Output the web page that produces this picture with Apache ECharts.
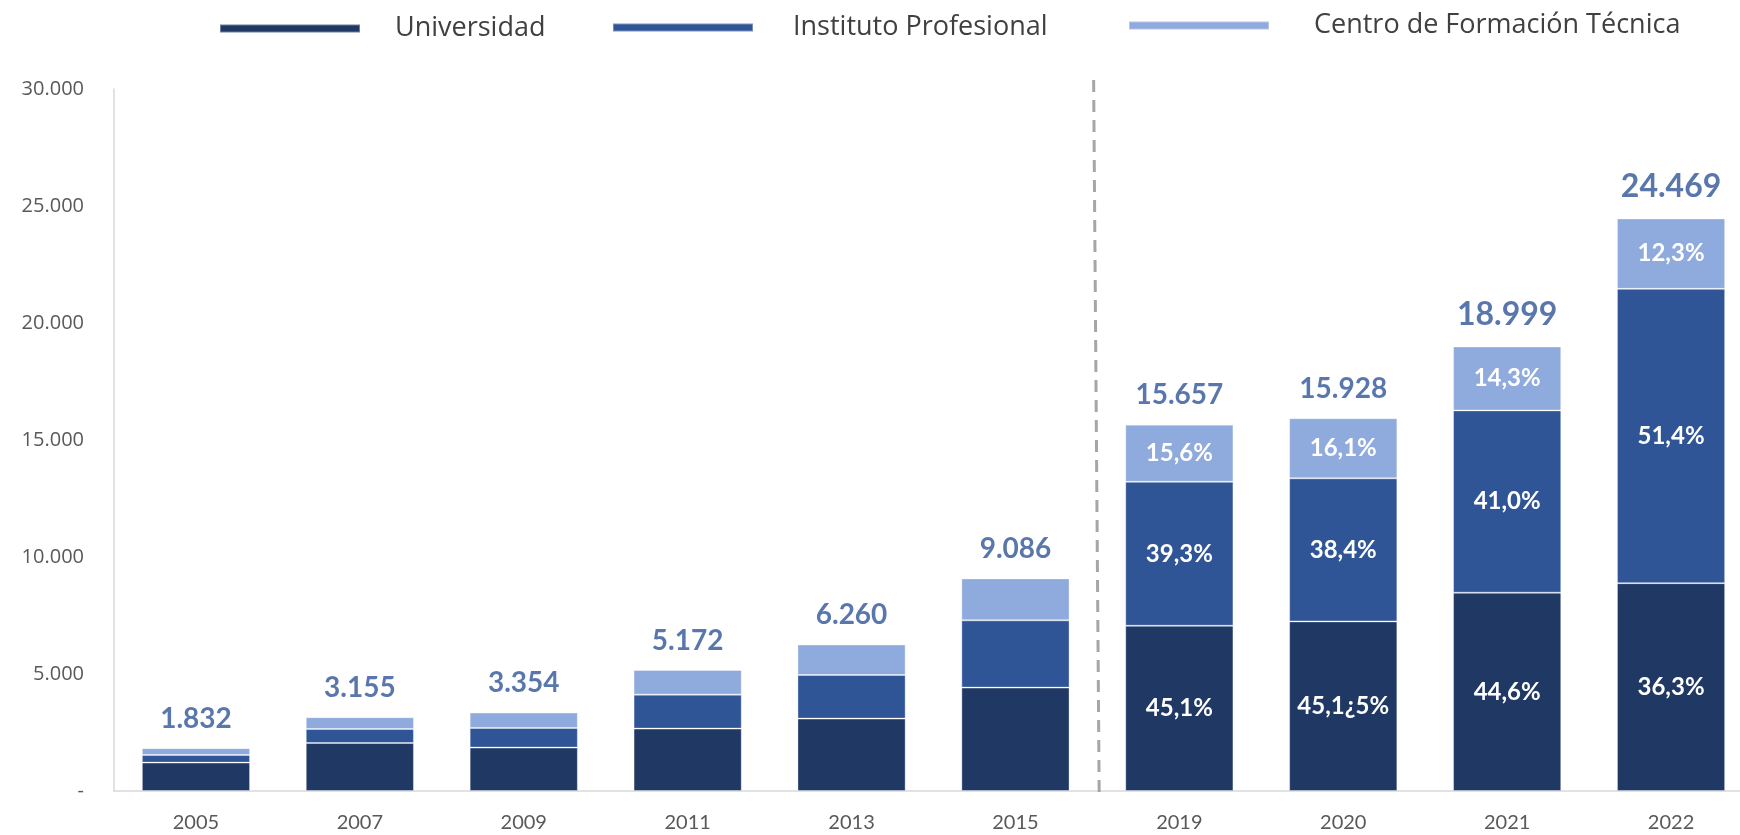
<!DOCTYPE html>
<html>
<head>
<meta charset="utf-8">
<script src="https://cdn.jsdelivr.net/npm/echarts@6/dist/echarts.min.js"></script>
<style>
  html, body { margin: 0; padding: 0; background: #fff; overflow: hidden; }
  /* a bit wider than the window: the last bar runs past the right edge */
  #chart { width: 1760px; height: 835px; }
</style>
</head>
<body>
<div id="chart"></div>
<script>
// data
const years = ['2005', '2007', '2009', '2011', '2013', '2015', '2019', '2020', '2021', '2022'];
const universidad = [1213, 2051, 1854, 2666, 3093, 4418, 7061, 7247, 8474, 8882];
const instituto = [325, 598, 838, 1452, 1863, 2875, 6153, 6116, 7790, 12577];
const cft = [294, 506, 662, 1054, 1304, 1793, 2443, 2565, 2735, 3010];
const totals = [1832, 3155, 3354, 5172, 6260, 9086, 15657, 15928, 18999, 24469];

const pctUniversidad = ['', '', '', '', '', '', '45,1%', '45,1¿5%', '44,6%', '36,3%'];
const pctInstituto = ['', '', '', '', '', '', '39,3%', '38,4%', '41,0%', '51,4%'];
const pctCft = ['', '', '', '', '', '', '15,6%', '16,1%', '14,3%', '12,3%'];

// dashed divider between 2015 and 2019 (x in category units, y in axis units)
const divider = [[5.977, 30380], [6.011, -260]];

const seriesNames = ['Universidad', 'Instituto Profesional', 'Centro de Formación Técnica'];
const colors = ['#203864', '#2F5597', '#8FAADC'];

function fmt(v) {
    return String(v).replace(/\B(?=(\d{3})+(?!\d))/g, '.');
}

function stackBar(name, values, pct, color) {
    return {
        name: name,
        type: 'bar',
        stack: 'total',
        barWidth: '66%',
        data: values,
        itemStyle: {
            color: color,
            borderColor: 'rgba(255,255,255,0.35)',
            borderWidth: 1
        },
        label: {
            show: true,
            position: 'inside',
            color: '#fff',
            fontFamily: 'Lato',
            fontWeight: 'bold',
            fontSize: 24,
            formatter: function (p) { return pct[p.dataIndex]; }
        },
        silent: true
    };
}

function legendAt(name, left, top, gap) {
    return {
        data: [name],
        left: left,
        top: top,
        icon: 'rect',
        itemWidth: 140,
        itemHeight: 8,
        selectedMode: false,
        textStyle: {
            color: '#404040',
            fontFamily: 'Open Sans',
            fontSize: 27,
            padding: [0, 0, 0, gap]
        }
    };
}

const chart = echarts.init(document.getElementById('chart'));

const option = {
    backgroundColor: '#fff',
    animation: false,
    legend: [
        legendAt(seriesNames[0], 214, 10, 30),
        legendAt(seriesNames[1], 607, 9, 35),
        legendAt(seriesNames[2], 1123, 7, 40)
    ],
    grid: {
        left: 114,
        top: 89,
        width: 1639,
        bottom: 44,
        containLabel: false
    },
    xAxis: [
        {
            type: 'category',
            data: years,
            axisLine: { lineStyle: { color: '#d9d9d9', width: 1.5 } },
            axisTick: { show: false },
            axisLabel: {
                color: '#595959',
                fontFamily: 'Lato',
                fontSize: 20,
                margin: 22
            }
        },
        {
            type: 'value',
            min: 0,
            max: 10,
            show: false
        }
    ],
    yAxis: {
        type: 'value',
        min: 0,
        max: 30000,
        interval: 5000,
        splitLine: { show: false },
        axisTick: { show: false },
        axisLine: { show: true, lineStyle: { color: '#d9d9d9', width: 1.5 } },
        axisLabel: {
            color: '#595959',
            fontFamily: 'Open Sans',
            fontSize: 20,
            margin: 30,
            formatter: function (v) { return v === 0 ? '-' : fmt(v); }
        }
    },
    series: [
        stackBar(seriesNames[0], universidad, pctUniversidad, colors[0]),
        stackBar(seriesNames[1], instituto, pctInstituto, colors[1]),
        stackBar(seriesNames[2], cft, pctCft, colors[2]),
        {
            name: 'total',
            type: 'scatter',
            data: totals.map(function (v, i) {
                return { value: v, label: { fontSize: i >= 8 ? 32 : 28 } };
            }),
            symbolSize: 1,
            itemStyle: { color: 'rgba(0,0,0,0)' },
            label: {
                show: true,
                position: 'top',
                distance: 15,
                color: '#2F5597',
                fontFamily: 'Lato',
                fontWeight: 'bold',
                formatter: function (p) { return fmt(p.value); }
            },
            silent: true,
            z: 5
        },
        {
            name: 'divider',
            type: 'line',
            xAxisIndex: 1,
            data: divider,
            symbol: 'none',
            clip: false,
            silent: true,
            lineStyle: { color: '#a6a6a6', width: 3, type: [12, 8] }
        }
    ]
};

chart.setOption(option);
</script>
</body>
</html>
